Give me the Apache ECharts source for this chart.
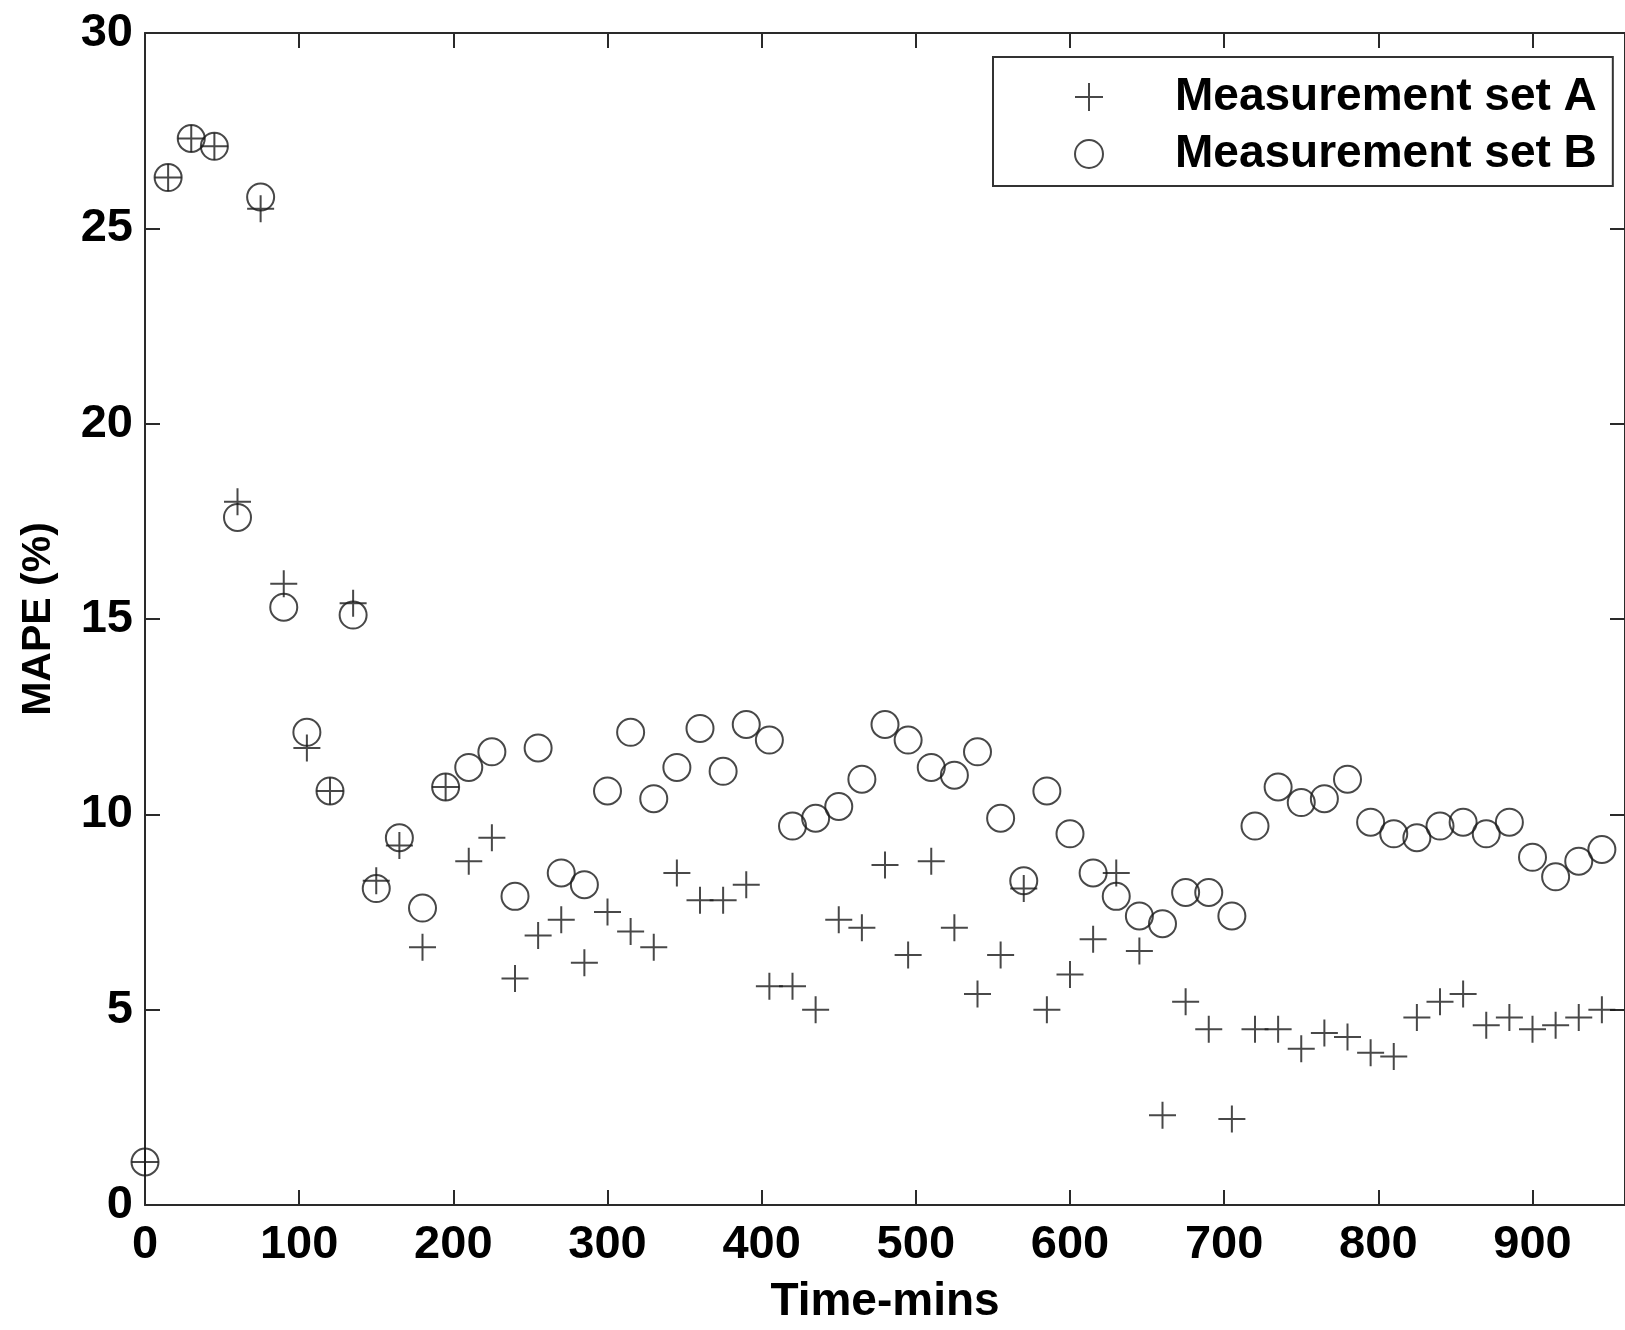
<!DOCTYPE html>
<html>
<head>
<meta charset="utf-8">
<title>MAPE</title>
<script src="https://cdn.jsdelivr.net/npm/echarts@6/dist/echarts.min.js"></script>
<style>
  html, body { margin: 0; padding: 0; background: #fff; }
  #main { width: 1625px; height: 1330px; }
</style>
</head>
<body>
<div id="main"></div>
<script>
// time stamps (minutes), one every 15 min
var times = [0, 15, 30, 45, 60, 75, 90, 105, 120, 135, 150, 165, 180, 195, 210, 225,
    240, 255, 270, 285, 300, 315, 330, 345, 360, 375, 390, 405, 420, 435, 450, 465,
    480, 495, 510, 525, 540, 555, 570, 585, 600, 615, 630, 645, 660, 675, 690, 705,
    720, 735, 750, 765, 780, 795, 810, 825, 840, 855, 870, 885, 900, 915, 930, 945];
// MAPE (%) values
var setA = [1.1, 26.3, 27.3, 27.1, 18.0, 25.5, 15.9, 11.7, 10.6, 15.4, 8.3, 9.2, 6.6, 10.7, 8.8, 9.4,
    5.8, 6.9, 7.3, 6.2, 7.5, 7.0, 6.6, 8.5, 7.8, 7.8, 8.2, 5.6, 5.6, 5.0, 7.3, 7.1,
    8.7, 6.4, 8.8, 7.1, 5.4, 6.4, 8.1, 5.0, 5.9, 6.8, 8.5, 6.5, 2.3, 5.2, 4.5, 2.2,
    4.5, 4.5, 4.0, 4.4, 4.3, 3.9, 3.8, 4.8, 5.2, 5.4, 4.6, 4.8, 4.5, 4.6, 4.8, 5.0];
var setB = [1.1, 26.3, 27.3, 27.1, 17.6, 25.8, 15.3, 12.1, 10.6, 15.1, 8.1, 9.4, 7.6, 10.7, 11.2, 11.6,
    7.9, 11.7, 8.5, 8.2, 10.6, 12.1, 10.4, 11.2, 12.2, 11.1, 12.3, 11.9, 9.7, 9.9, 10.2, 10.9,
    12.3, 11.9, 11.2, 11.0, 11.6, 9.9, 8.3, 10.6, 9.5, 8.5, 7.9, 7.4, 7.2, 8.0, 8.0, 7.4,
    9.7, 10.7, 10.3, 10.4, 10.9, 9.8, 9.5, 9.4, 9.7, 9.8, 9.5, 9.8, 8.9, 8.4, 8.8, 9.1];
var xTicks = { min: 0, max: 960, interval: 100 };
var yTicks = { min: 0, max: 30, interval: 5 };
var names = ['Measurement set A', 'Measurement set B'];

var plusIcon = 'path://M10,0L10,20M0,10L20,10';
var ringIcon = 'circle';

function pairs(xs, ys) {
    var out = [];
    for (var i = 0; i < xs.length; i++) out.push([xs[i], ys[i]]);
    return out;
}

var font = 'Liberation Sans, Arial, sans-serif';
var axisCol = '#2a2a2a';
var markStyle = { color: 'rgba(0,0,0,0)', borderColor: '#1a1a1a', borderWidth: 2 };

// box-style axis: plain line, inward ticks, never snapped to zero
function frameAxis(extra) {
    var a = {
        type: 'value',
        axisLine: { show: true, onZero: false, lineStyle: { color: axisCol, width: 2 } },
        axisTick: { show: true, inside: true, length: 15, lineStyle: { color: axisCol, width: 2 } },
        splitLine: { show: false }
    };
    for (var k in extra) a[k] = extra[k];
    return a;
}

var myChart = echarts.init(document.getElementById('main'));
var option = {
    backgroundColor: '#fff',
    animation: false,
    textStyle: { fontFamily: font },
    grid: { left: 145, top: 33, width: 1491, height: 1174 },
    legend: {
        orient: 'vertical',
        left: 993,
        top: 57,
        padding: [17, 16, 9, 81],
        itemWidth: 162,
        itemHeight: 28,
        itemGap: 11,
        borderColor: '#333',
        borderWidth: 2,
        backgroundColor: '#fff',
        textStyle: { fontSize: 46, fontWeight: 'bold', color: '#000', fontFamily: font },
        data: [
            { name: names[0], icon: plusIcon, itemStyle: markStyle },
            { name: names[1], icon: ringIcon, itemStyle: markStyle }
        ]
    },
    xAxis: [
        frameAxis({
            position: 'bottom',
            min: xTicks.min, max: xTicks.max, interval: xTicks.interval,
            name: 'Time-mins',
            nameLocation: 'middle',
            nameGap: 74,
            nameTextStyle: { fontSize: 46, fontWeight: 'bold', color: '#000' },
            axisLabel: { fontSize: 47, fontWeight: 'bold', color: '#000', margin: 17, showMaxLabel: false }
        }),
        frameAxis({
            position: 'top',
            min: xTicks.min, max: xTicks.max, interval: xTicks.interval,
            axisLabel: { show: false }
        })
    ],
    yAxis: [
        frameAxis({
            position: 'left',
            min: yTicks.min, max: yTicks.max, interval: yTicks.interval,
            name: 'MAPE (%)',
            nameLocation: 'middle',
            nameGap: 86,
            nameTextStyle: { fontSize: 41, fontWeight: 'bold', color: '#000' },
            axisLabel: { fontSize: 47, fontWeight: 'bold', color: '#000', margin: 12 }
        }),
        frameAxis({
            position: 'right',
            min: yTicks.min, max: yTicks.max, interval: yTicks.interval,
            axisLabel: { show: false }
        })
    ],
    series: [{
        name: names[0],
        type: 'scatter',
        symbol: plusIcon,
        symbolSize: 27,
        itemStyle: markStyle,
        data: pairs(times, setA)
    }, {
        name: names[1],
        type: 'scatter',
        symbol: ringIcon,
        symbolSize: 27,
        itemStyle: markStyle,
        data: pairs(times, setB)
    }]
};
option && myChart.setOption(option);
</script>
</body>
</html>
